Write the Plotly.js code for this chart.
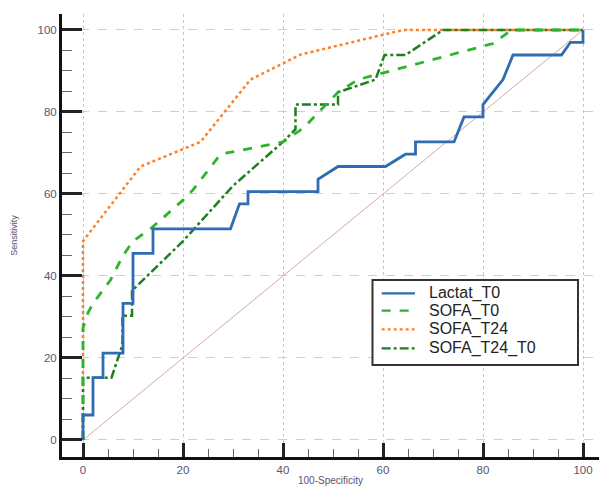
<!DOCTYPE html>
<html>
<head>
<meta charset="utf-8">
<script src="https://cdn.plot.ly/plotly-3.0.1.min.js"></script>
<style>html,body{margin:0;padding:0;background:#fff;}#chart{width:599px;height:486px;}</style>
</head>
<body>
<div id="chart"></div>
<script>
// ROC curves: x = 100-Specificity, y = Sensitivity
const seriesNames = ['Lactat_T0', 'SOFA_T0', 'SOFA_T24', 'SOFA_T24_T0'];

const lactatX = [0,0,2,2,4,4,8,8,10,10,14,14,29.5,31.3,33,33,47,47,51,60.5,64.5,66.5,66.5,74.2,76.2,80,80,84,86,95.7,97.5,100,100];
const lactatY = [0,6.1,6.1,15.2,15.2,21.2,21.2,33.3,33.3,45.5,45.5,51.5,51.5,57.6,57.6,60.6,60.6,63.6,66.7,66.7,69.7,69.7,72.7,72.7,78.8,78.8,81.8,87.9,93.9,93.9,97,97,100];

const sofaT0X = [0,0,1,2,5.5,8,10,13.5,20,22,27.5,40,44,51,55,60,67.5,82,85.7,100];
const sofaT0Y = [0,27.3,31,33.3,39,45,48.5,51.5,58.5,61,69.7,72.7,76,84.8,87.9,89.5,91.9,96.7,100,100];

const sofaT24X = [0,0,11.5,23.5,33.5,43.5,64,100];
const sofaT24Y = [0,48.5,66.7,72.7,87.9,94,100,100];

const sofaT24T0X = [0,0,5.7,7.7,7.9,7.9,9.8,9.8,20,30,40,42.5,42.5,51,51,58.5,60.3,64.5,72,100];
const sofaT24T0Y = [0,15.2,15.2,22.5,24,30.3,30.3,36.4,48.5,62,72.7,75.8,81.8,81.8,84.8,87.9,93.9,93.9,100,100];

const diagX = [0,100];
const diagY = [0,100];

const tickVals = [0,20,40,60,80,100];
const tickText = ["0","20","40","60","80","100"];

// styles (legend order)
const styles = [
  {color:'#2f6db3', width:2.8, dash:'solid'},
  {color:'#2db42d', width:2.8, dash:'dash'},
  {color:'#ff7f2a', width:2.5, dash:'dot'},
  {color:'#1f7f1f', width:2.5, dash:'dashdot'}
];

const traces = [
  {x: diagX, y: diagY, mode:'lines', line:{color:'#d8a8a4', width:1}, showlegend:false, hoverinfo:'skip'},
  {x: sofaT24X, y: sofaT24Y, name:seriesNames[2], mode:'lines', line:styles[2], showlegend:false},
  {x: sofaT24T0X, y: sofaT24T0Y, name:seriesNames[3], mode:'lines', line:styles[3], showlegend:false},
  {x: sofaT0X, y: sofaT0Y, name:seriesNames[1], mode:'lines', line:styles[1], showlegend:false},
  {x: lactatX, y: lactatY, name:seriesNames[0], mode:'lines', line:styles[0], showlegend:false}
];

// legend box drawn in paper coordinates
const legBox = {x0:0.5782, x1:0.9609, y0:0.2077, y1:0.3995};
const legRows = [0.3695, 0.3302, 0.2882, 0.2453];
const legSym = {x0:0.5953, x1:0.6574};
const legTextX = 0.6791;

const shapes = [
  {type:'rect', xref:'paper', yref:'paper', x0:legBox.x0, x1:legBox.x1, y0:legBox.y0, y1:legBox.y1,
   fillcolor:'#ffffff', line:{color:'#333333', width:2}, layer:'above'}
];
const annotations = [];
seriesNames.forEach((n, i) => {
  shapes.push({type:'line', xref:'paper', yref:'paper', x0:legSym.x0, x1:legSym.x1, y0:legRows[i], y1:legRows[i],
    line:{color:styles[i].color, width:2.2, dash:styles[i].dash}, layer:'above'});
  annotations.push({xref:'paper', yref:'paper', x:legTextX, y:legRows[i], xanchor:'left', yanchor:'middle',
    text:n, showarrow:false, font:{family:'Liberation Sans, Arial, sans-serif', size:16, color:'#222222'}});
});

const tickFont = {family:'Liberation Sans, Arial, sans-serif', size:11.5, color:'#5a5470'};

const layout = {
  width:599, height:486,
  margin:{l:62, r:0, t:14, b:29},
  paper_bgcolor:'#ffffff', plot_bgcolor:'#ffffff',
  showlegend:false,
  shapes: shapes,
  annotations: annotations,
  xaxis:{
    range:[-4.2, 103.2], tickvals:tickVals, ticktext:tickText,
    ticks:'inside', ticklen:14, tickwidth:3, tickcolor:'#222',
    minor:{dtick:5, tick0:0, ticks:'inside', ticklen:8, tickwidth:1, tickcolor:'#666', showgrid:false},
    showline:true, linewidth:3, linecolor:'#111', mirror:false,
    showgrid:true, gridcolor:'#c8c8c8', gridwidth:1, griddash:'dot',
    zeroline:false, tickfont:tickFont,
    title:{text:'100-Specificity', font:{family:'Liberation Sans, Arial, sans-serif', size:10, color:'#5a5470'}, standoff:14},
    automargin:false, fixedrange:true
  },
  yaxis:{
    range:[-4.15, 103.9], tickvals:tickVals, ticktext:tickText,
    ticks:'inside', ticklen:20, tickwidth:3, tickcolor:'#222',
    minor:{dtick:5, tick0:0, ticks:'inside', ticklen:10, tickwidth:1, tickcolor:'#666', showgrid:false},
    showline:true, linewidth:3, linecolor:'#111', mirror:false,
    showgrid:true, gridcolor:'#cfcfcf', gridwidth:1, griddash:'dash',
    zeroline:false, tickfont:tickFont,
    title:{text:'Sensitivity', font:{family:'Liberation Sans, Arial, sans-serif', size:9, color:'#5a5470'}, standoff:19},
    automargin:false, fixedrange:true
  }
};

Plotly.newPlot('chart', traces, layout, {staticPlot:true, displayModeBar:false});
</script>
</body>
</html>
